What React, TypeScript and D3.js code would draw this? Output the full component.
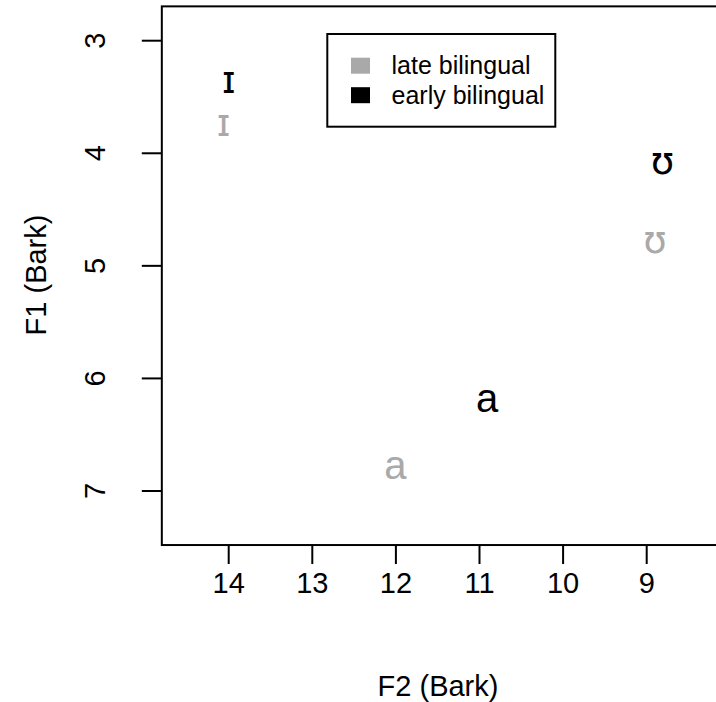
import React from "react";
import * as d3 from "d3";

const W = 716;
const H = 702;

// axis ticks
const xTicks = [14, 13, 12, 11, 10, 9];
const yTicks = [3, 4, 5, 6, 7];

// plotted vowels (F2, F1 in Bark)
const vowelLabels = ["ɪ", "ɪ", "ʊ", "ʊ", "a", "a"];
const vowelGroups = ["early", "late", "early", "late", "early", "late"];
const vowelF2 = [14.0, 14.06, 8.81, 8.9, 10.91, 12.005];
const vowelF1 = [3.376, 3.758, 4.095, 4.797, 6.204, 6.804];

const legendLabels = ["late bilingual", "early bilingual"];
const legendColors = ["#A9A9A9", "#000000"];
const groupColor: Record<string, string> = { late: "#A9A9A9", early: "#000000" };

const xLim = [14.8, 7.95];
const yLim = [2.695, 7.48];

const FONT = "'Liberation Sans', Arial, Helvetica, sans-serif";
const IPA_FONT = "'DejaVu Sans', 'Liberation Sans', sans-serif";

export default function App() {
  const x = d3.scaleLinear().domain([14, 9]).range([228.7, 646.7]);
  const y = d3.scaleLinear().domain([3, 7]).range([40.7, 491]);

  const left = x(xLim[0]);
  const right = x(xLim[1]);
  const top = y(yLim[0]);
  const bottom = y(yLim[1]);

  const glyphSize = 40;
  const axisFont = 29;

  return (
    <svg
      width={W}
      height={H}
      style={{ position: "absolute", left: 0, top: 0, background: "#fff" }}
      fontFamily={FONT}
    >
      <rect x={0} y={0} width={W} height={H} fill="#fff" />
      {/* box */}
      <rect
        x={left}
        y={top}
        width={right - left}
        height={bottom - top}
        fill="none"
        stroke="#000"
        strokeWidth={2}
      />
      {/* x axis */}
      {xTicks.map((t) => (
        <g key={"xt" + t}>
          <line x1={x(t)} x2={x(t)} y1={bottom} y2={bottom + 19} stroke="#000" strokeWidth={2} />
          <text x={x(t)} y={bottom + 48} fontSize={axisFont} textAnchor="middle">
            {t}
          </text>
        </g>
      ))}
      {/* y axis */}
      {yTicks.map((t) => (
        <g key={"yt" + t}>
          <line x1={left - 20} x2={left} y1={y(t)} y2={y(t)} stroke="#000" strokeWidth={2} />
          <text
            transform={`translate(${left - 56.5},${y(t)}) rotate(-90)`}
            fontSize={axisFont}
            textAnchor="middle"
          >
            {t}
          </text>
        </g>
      ))}
      {/* axis titles */}
      <text x={438} y={696} fontSize={axisFont} textAnchor="middle">
        F2 (Bark)
      </text>
      <text transform={`translate(46,275) rotate(-90)`} fontSize={axisFont} textAnchor="middle">
        F1 (Bark)
      </text>
      {/* vowels */}
      {vowelLabels.map((v, i) => (
        <text
          key={"v" + i}
          x={x(vowelF2[i])}
          y={y(vowelF1[i]) + glyphSize * 0.26}
          fontSize={v === "a" ? glyphSize : glyphSize * 0.95}
          fontFamily={v === "a" ? FONT : IPA_FONT}
          textAnchor="middle"
          fill={groupColor[vowelGroups[i]]}
        >
          {v}
        </text>
      ))}
      {/* legend */}
      <rect x={327.3} y={34} width={228} height={92.7} fill="#fff" stroke="#000" strokeWidth={2} />
      {legendLabels.map((l, i) => (
        <g key={"lg" + i}>
          <rect x={351} y={57.7 + i * 29.5} width={19} height={16} fill={legendColors[i]} />
          <text x={391.5} y={74.3 + i * 29.5} fontSize={25}>
            {l}
          </text>
        </g>
      ))}
    </svg>
  );
}
